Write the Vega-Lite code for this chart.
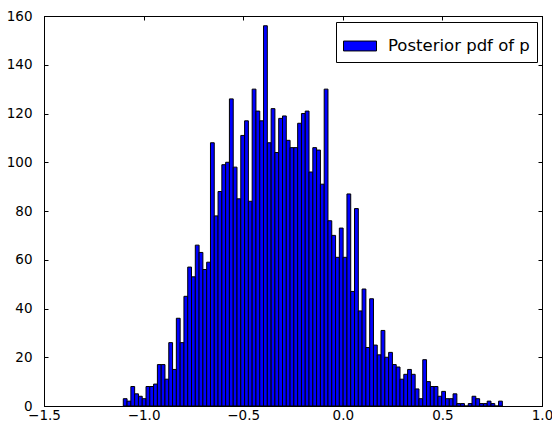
{
  "$schema": "https://vega.github.io/schema/vega-lite/v6.json",
  "width": 498,
  "height": 390,
  "autosize": "none",
  "padding": {"left": 44, "top": 16, "right": 10, "bottom": 17},
  "config": {
    "view": {"stroke": "black", "strokeWidth": 1},
    "font": "DejaVu Sans",
    "axis": {"grid": false, "domain": true, "domainColor": "black", "domainWidth": 1, "tickColor": "black", "tickSize": -4, "tickWidth": 1, "labelColor": "black", "labelFontSize": 13.5, "labelFont": "DejaVu Sans", "title": null, "labelFlush": false}
  },
  "data": {"values": [
    {"bin_start": -1.1020, "bin_end": -1.0830, "count": 3},
    {"bin_start": -1.0830, "bin_end": -1.0639, "count": 2},
    {"bin_start": -1.0639, "bin_end": -1.0449, "count": 8},
    {"bin_start": -1.0449, "bin_end": -1.0259, "count": 5},
    {"bin_start": -1.0259, "bin_end": -1.0069, "count": 4},
    {"bin_start": -1.0069, "bin_end": -0.9878, "count": 3},
    {"bin_start": -0.9878, "bin_end": -0.9688, "count": 8},
    {"bin_start": -0.9688, "bin_end": -0.9498, "count": 8},
    {"bin_start": -0.9498, "bin_end": -0.9307, "count": 9},
    {"bin_start": -0.9307, "bin_end": -0.9117, "count": 17},
    {"bin_start": -0.9117, "bin_end": -0.8927, "count": 17},
    {"bin_start": -0.8927, "bin_end": -0.8736, "count": 11},
    {"bin_start": -0.8736, "bin_end": -0.8546, "count": 26},
    {"bin_start": -0.8546, "bin_end": -0.8356, "count": 15},
    {"bin_start": -0.8356, "bin_end": -0.8165, "count": 36},
    {"bin_start": -0.8165, "bin_end": -0.7975, "count": 26},
    {"bin_start": -0.7975, "bin_end": -0.7785, "count": 45},
    {"bin_start": -0.7785, "bin_end": -0.7595, "count": 57},
    {"bin_start": -0.7595, "bin_end": -0.7404, "count": 53},
    {"bin_start": -0.7404, "bin_end": -0.7214, "count": 66},
    {"bin_start": -0.7214, "bin_end": -0.7024, "count": 63},
    {"bin_start": -0.7024, "bin_end": -0.6833, "count": 56},
    {"bin_start": -0.6833, "bin_end": -0.6643, "count": 59},
    {"bin_start": -0.6643, "bin_end": -0.6453, "count": 108},
    {"bin_start": -0.6453, "bin_end": -0.6262, "count": 78},
    {"bin_start": -0.6262, "bin_end": -0.6072, "count": 88},
    {"bin_start": -0.6072, "bin_end": -0.5882, "count": 99},
    {"bin_start": -0.5882, "bin_end": -0.5692, "count": 100},
    {"bin_start": -0.5692, "bin_end": -0.5501, "count": 126},
    {"bin_start": -0.5501, "bin_end": -0.5311, "count": 98},
    {"bin_start": -0.5311, "bin_end": -0.5121, "count": 85},
    {"bin_start": -0.5121, "bin_end": -0.4930, "count": 111},
    {"bin_start": -0.4930, "bin_end": -0.4740, "count": 117},
    {"bin_start": -0.4740, "bin_end": -0.4550, "count": 84},
    {"bin_start": -0.4550, "bin_end": -0.4360, "count": 130},
    {"bin_start": -0.4360, "bin_end": -0.4169, "count": 121},
    {"bin_start": -0.4169, "bin_end": -0.3979, "count": 117},
    {"bin_start": -0.3979, "bin_end": -0.3789, "count": 156},
    {"bin_start": -0.3789, "bin_end": -0.3598, "count": 108},
    {"bin_start": -0.3598, "bin_end": -0.3408, "count": 122},
    {"bin_start": -0.3408, "bin_end": -0.3218, "count": 104},
    {"bin_start": -0.3218, "bin_end": -0.3027, "count": 118},
    {"bin_start": -0.3027, "bin_end": -0.2837, "count": 119},
    {"bin_start": -0.2837, "bin_end": -0.2647, "count": 109},
    {"bin_start": -0.2647, "bin_end": -0.2457, "count": 106},
    {"bin_start": -0.2457, "bin_end": -0.2266, "count": 106},
    {"bin_start": -0.2266, "bin_end": -0.2076, "count": 116},
    {"bin_start": -0.2076, "bin_end": -0.1886, "count": 120},
    {"bin_start": -0.1886, "bin_end": -0.1695, "count": 121},
    {"bin_start": -0.1695, "bin_end": -0.1505, "count": 96},
    {"bin_start": -0.1505, "bin_end": -0.1315, "count": 106},
    {"bin_start": -0.1315, "bin_end": -0.1124, "count": 105},
    {"bin_start": -0.1124, "bin_end": -0.0934, "count": 91},
    {"bin_start": -0.0934, "bin_end": -0.0744, "count": 130},
    {"bin_start": -0.0744, "bin_end": -0.0554, "count": 76},
    {"bin_start": -0.0554, "bin_end": -0.0363, "count": 70},
    {"bin_start": -0.0363, "bin_end": -0.0173, "count": 61},
    {"bin_start": -0.0173, "bin_end": 0.0017, "count": 73},
    {"bin_start": 0.0017, "bin_end": 0.0208, "count": 61},
    {"bin_start": 0.0208, "bin_end": 0.0398, "count": 87},
    {"bin_start": 0.0398, "bin_end": 0.0588, "count": 47},
    {"bin_start": 0.0588, "bin_end": 0.0779, "count": 81},
    {"bin_start": 0.0779, "bin_end": 0.0969, "count": 39},
    {"bin_start": 0.0969, "bin_end": 0.1159, "count": 48},
    {"bin_start": 0.1159, "bin_end": 0.1350, "count": 24},
    {"bin_start": 0.1350, "bin_end": 0.1540, "count": 44},
    {"bin_start": 0.1540, "bin_end": 0.1730, "count": 25},
    {"bin_start": 0.1730, "bin_end": 0.1920, "count": 21},
    {"bin_start": 0.1920, "bin_end": 0.2111, "count": 31},
    {"bin_start": 0.2111, "bin_end": 0.2301, "count": 20},
    {"bin_start": 0.2301, "bin_end": 0.2491, "count": 22},
    {"bin_start": 0.2491, "bin_end": 0.2682, "count": 17},
    {"bin_start": 0.2682, "bin_end": 0.2872, "count": 16},
    {"bin_start": 0.2872, "bin_end": 0.3062, "count": 11},
    {"bin_start": 0.3062, "bin_end": 0.3253, "count": 13},
    {"bin_start": 0.3253, "bin_end": 0.3443, "count": 15},
    {"bin_start": 0.3443, "bin_end": 0.3633, "count": 13},
    {"bin_start": 0.3633, "bin_end": 0.3823, "count": 7},
    {"bin_start": 0.3823, "bin_end": 0.4014, "count": 3},
    {"bin_start": 0.4014, "bin_end": 0.4204, "count": 19},
    {"bin_start": 0.4204, "bin_end": 0.4394, "count": 10},
    {"bin_start": 0.4394, "bin_end": 0.4585, "count": 8},
    {"bin_start": 0.4585, "bin_end": 0.4775, "count": 8},
    {"bin_start": 0.4775, "bin_end": 0.4965, "count": 4},
    {"bin_start": 0.4965, "bin_end": 0.5156, "count": 6},
    {"bin_start": 0.5156, "bin_end": 0.5346, "count": 3},
    {"bin_start": 0.5346, "bin_end": 0.5536, "count": 3},
    {"bin_start": 0.5536, "bin_end": 0.5726, "count": 5},
    {"bin_start": 0.5726, "bin_end": 0.5917, "count": 1},
    {"bin_start": 0.5917, "bin_end": 0.6107, "count": 1},
    {"bin_start": 0.6107, "bin_end": 0.6297, "count": 0},
    {"bin_start": 0.6297, "bin_end": 0.6488, "count": 1},
    {"bin_start": 0.6488, "bin_end": 0.6678, "count": 4},
    {"bin_start": 0.6678, "bin_end": 0.6868, "count": 3},
    {"bin_start": 0.6868, "bin_end": 0.7059, "count": 1},
    {"bin_start": 0.7059, "bin_end": 0.7249, "count": 1},
    {"bin_start": 0.7249, "bin_end": 0.7439, "count": 2},
    {"bin_start": 0.7439, "bin_end": 0.7629, "count": 1},
    {"bin_start": 0.7629, "bin_end": 0.7820, "count": 0},
    {"bin_start": 0.7820, "bin_end": 0.8010, "count": 2}
  ]},
  "layer": [
    {
      "mark": {"type": "bar", "stroke": "black", "strokeWidth": 1, "opacity": 1, "orient": "vertical"},
      "encoding": {
        "x": {"field": "bin_start", "type": "quantitative", "scale": {"domain": [-1.5, 1.0], "nice": false, "zero": false, "padding": 0},
              "axis": {"values": [-1.5, -1.0, -0.5, 0.0, 0.5, 1.0], "format": ".1f", "labelPadding": 6}},
        "x2": {"field": "bin_end"},
        "y": {"field": "count", "type": "quantitative", "scale": {"domain": [0, 160], "nice": false, "padding": 0},
              "axis": {"values": [0, 20, 40, 60, 80, 100, 120, 140, 160], "format": "d", "labelPadding": 16}},
        "y2": {"datum": 0},
        "color": {"datum": "Posterior pdf of p", "type": "nominal", "scale": {"range": ["#0000ff"]},
          "legend": {"orient": "none", "legendX": 292, "legendY": 6, "title": null,
            "symbolType": "M-1,-0.3H1V0.3H-1Z", "symbolSize": 1089, "symbolStrokeColor": "black", "symbolStrokeWidth": 1,
            "symbolOpacity": 1, "labelFontSize": 16.5, "labelFont": "DejaVu Sans", "labelColor": "black", "labelOffset": 11,
            "strokeColor": "black", "fillColor": "white", "padding": 7, "cornerRadius": 0, "labelLimit": 300}}
      }
    },
    {
      "mark": {"type": "point", "opacity": 0},
      "encoding": {
        "x": {"field": "bin_start", "type": "quantitative", "scale": {"domain": [-1.5, 1.0], "nice": false, "zero": false, "padding": 0},
              "axis": {"orient": "top", "values": [-1.5, -1.0, -0.5, 0.0, 0.5, 1.0], "labels": false}},
        "y": {"field": "count", "type": "quantitative", "scale": {"domain": [0, 160], "nice": false, "padding": 0},
              "axis": {"orient": "right", "values": [0, 20, 40, 60, 80, 100, 120, 140, 160], "labels": false}}
      }
    }
  ],
  "resolve": {"axis": {"x": "independent", "y": "independent"}}
}
